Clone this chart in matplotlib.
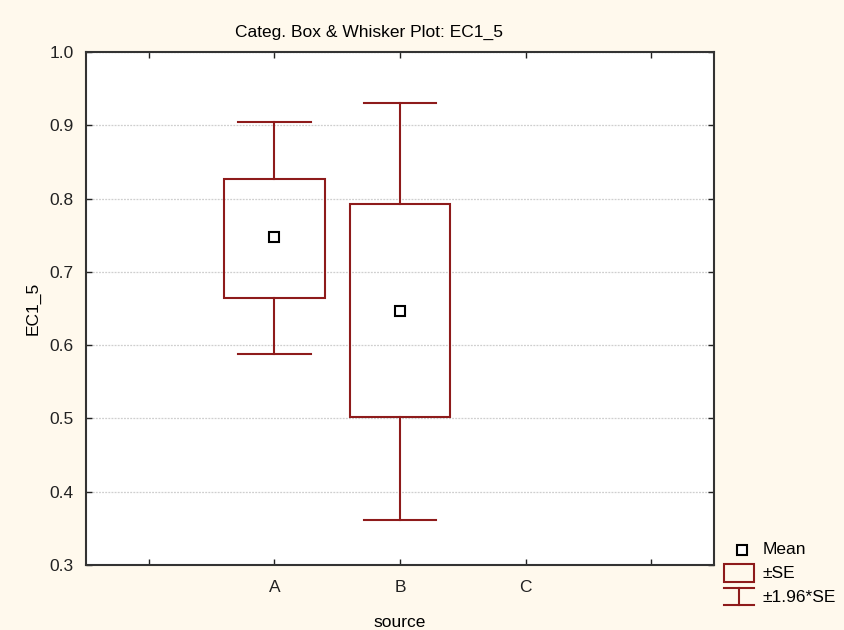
import matplotlib.pyplot as plt
from matplotlib.patches import Rectangle
from matplotlib.lines import Line2D

plt.rcParams['font.family'] = ['Liberation Sans', 'DejaVu Sans']

# Data
categories = ['A', 'B', 'C']
means = [0.747, 0.646]
se_low = [0.665, 0.502]
se_high = [0.827, 0.792]
ci_low = [0.588, 0.362]
ci_high = [0.905, 0.931]

box_col = '#8E1B1B'
bg_col = '#FFF9ED'
fs = 12.5

fig = plt.figure(figsize=(8.45, 6.30), dpi=100, facecolor=bg_col)
ax = fig.add_axes([86/845, 1 - 565/630, (714 - 86)/845, (565 - 52)/630])
ax.set_facecolor('white')

box_w = 0.8
cap_w = 0.58
for i in range(len(means)):
    x = i + 1
    ax.add_patch(Rectangle((x - box_w/2, se_low[i]), box_w, se_high[i] - se_low[i],
                           fill=False, edgecolor=box_col, lw=1.5, zorder=3))
    ax.plot([x, x], [se_high[i], ci_high[i]], color=box_col, lw=1.5, zorder=3)
    ax.plot([x, x], [ci_low[i], se_low[i]], color=box_col, lw=1.5, zorder=3)
    ax.plot([x - cap_w/2, x + cap_w/2], [ci_high[i]] * 2, color=box_col, lw=1.5, zorder=3)
    ax.plot([x - cap_w/2, x + cap_w/2], [ci_low[i]] * 2, color=box_col, lw=1.5, zorder=3)
    ax.plot(x, means[i], 's', ms=6.5, mfc='white', mec='black', mew=1.5, zorder=4)

ax.set_xlim(-0.5, 4.5)
ax.set_ylim(0.3, 1.0)
ax.set_xticks(range(5))
ax.set_xticklabels([''] + categories + [''])
ax.set_yticks([0.3, 0.4, 0.5, 0.6, 0.7, 0.8, 0.9, 1.0])
ax.set_yticklabels(['%.1f' % v for v in ax.get_yticks()])
ax.yaxis.grid(True, color='#cfcfcf', linestyle=(0, (1.5, 1)), lw=0.9)
ax.set_axisbelow(True)
ax.tick_params(direction='in', length=4, width=1, colors='#222222',
               labelsize=fs, top=True, right=True, pad=11)
ax.tick_params(axis='y', pad=9)
for sp in ax.spines.values():
    sp.set_color('#333333')
    sp.set_linewidth(1.5)

ax.set_xlabel('source', fontsize=fs, labelpad=14)
ax.set_ylabel('EC1_5', fontsize=fs, labelpad=6)

# title and legend placed in figure pixels
def fx(px):
    return px / 845
def fy(py):
    return 1 - py / 630

fig.text(fx(369), fy(32), 'Categ. Box & Whisker Plot: EC1_5', fontsize=fs,
         ha='center', va='center')

fig.add_artist(Line2D([fx(742)], [fy(550)], marker='s', ms=6.5, mfc='white',
                      mec='black', mew=1.5, transform=fig.transFigure))
fig.text(fx(763), fy(550), 'Mean', fontsize=fs, va='center')
fig.add_artist(Rectangle((fx(724), fy(582)), fx(30), 18/630, fill=False,
                         edgecolor=box_col, lw=1.5, transform=fig.transFigure))
fig.text(fx(763), fy(573), '\u00b1SE', fontsize=fs, va='center')
for y in (588, 605):
    fig.add_artist(Line2D([fx(724), fx(754)], [fy(y), fy(y)], color=box_col,
                          lw=1.5, transform=fig.transFigure))
fig.add_artist(Line2D([fx(739), fx(739)], [fy(588), fy(605)], color=box_col,
                      lw=1.5, transform=fig.transFigure))
fig.text(fx(763), fy(597), '\u00b11.96*SE', fontsize=fs, va='center')

fig.savefig('out.png', dpi=100, facecolor=bg_col)
